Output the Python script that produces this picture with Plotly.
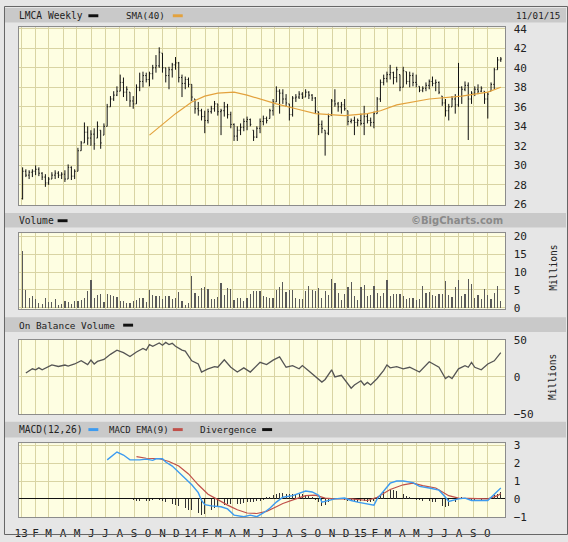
import plotly.graph_objects as go
import pandas as pd

W, H = 568, 542

# ---------------- data ----------------
first_week = "2013-01-04"
n_weeks = 148

opens = [26.6, 29.4, 29.0, 29.3, 29.4, 29.6, 29.2, 28.8, 28.2, 28.6, 29.0, 29.2, 29.0, 29.1, 28.6, 29.8, 28.9, 29.4, 31.5, 32.3,
         33.4, 32.8, 33.2, 32.8, 33.6, 33.1, 34.0, 36.0, 36.8, 37.2, 37.6, 38.5, 37.5, 37.5, 36.6, 36.3, 38.0, 38.6, 39.2, 38.8,
         39.4, 40.0, 40.2, 41.5, 40.0, 39.2, 39.8, 40.3, 40.5, 39.0, 38.4, 38.8, 38.3, 36.8, 35.8, 35.6, 35.0, 34.6, 35.5, 35.8,
         36.3, 35.5, 35.6, 36.0, 35.2, 34.2, 33.0, 33.6, 33.9, 34.5, 34.7, 33.6, 32.9, 33.8, 34.5, 34.8, 34.8, 35.6, 36.5, 37.6,
         37.4, 36.8, 36.3, 35.2, 36.9, 37.0, 37.3, 37.0, 37.5, 37.2, 36.9, 35.5, 34.2, 33.6, 33.3, 35.1, 36.6, 36.3, 36.0, 36.2,
         35.6, 34.5, 34.6, 34.4, 34.6, 34.3, 35.0, 34.6, 34.4, 35.3, 36.8, 38.5, 38.9, 39.3, 39.5, 39.0, 39.3, 38.0, 39.6, 38.6,
         39.2, 38.5, 38.1, 37.7, 37.9, 38.2, 38.6, 38.4, 38.5, 37.1, 36.4, 35.6, 36.0, 36.8, 36.2, 38.0, 37.8, 38.2, 36.8, 37.4,
         37.8, 37.6, 37.6, 36.8, 37.6, 38.3, 39.8, 40.8]
highs = [29.8, 29.6, 29.5, 29.6, 30.0, 29.8, 29.3, 29.1, 28.8, 29.3, 29.5, 29.4, 29.3, 29.5, 30.1, 29.9, 29.6, 31.8, 32.5, 34.4,
         34.0, 33.6, 33.8, 34.5, 33.6, 34.3, 36.3, 37.1, 37.6, 38.1, 39.3, 39.0, 38.1, 37.5, 37.1, 38.3, 39.5, 39.6, 39.5, 39.6,
         40.3, 41.3, 42.1, 41.5, 40.0, 40.1, 40.5, 41.1, 40.6, 39.3, 39.1, 39.0, 38.3, 36.8, 36.5, 35.8, 35.6, 35.8, 36.1, 36.6,
         36.3, 35.8, 36.5, 36.3, 35.5, 34.3, 34.0, 34.3, 34.8, 35.0, 34.8, 33.6, 34.0, 34.8, 35.1, 35.0, 35.8, 36.8, 38.1, 37.8,
         37.8, 37.3, 36.3, 37.1, 37.3, 37.6, 37.5, 37.8, 37.6, 37.3, 37.0, 35.5, 34.6, 33.6, 35.3, 36.8, 37.8, 36.5, 36.5, 36.8,
         35.6, 34.8, 35.0, 34.8, 35.3, 36.1, 35.3, 34.9, 35.5, 37.0, 38.8, 39.3, 39.6, 40.3, 39.6, 40.1, 39.3, 40.1, 39.6, 39.6,
         39.5, 39.3, 38.1, 38.1, 38.5, 38.8, 39.1, 38.8, 38.6, 37.1, 36.8, 36.3, 37.1, 37.3, 40.5, 38.1, 38.6, 38.5, 37.6, 38.1,
         38.3, 38.1, 37.6, 37.5, 38.5, 40.0, 41.1, 41.1]
lows = [26.5, 28.8, 28.6, 28.8, 29.0, 28.9, 28.5, 27.8, 28.0, 28.6, 28.6, 28.7, 28.6, 28.3, 28.6, 28.5, 28.6, 29.4, 31.5, 32.3,
        32.1, 32.0, 31.6, 32.8, 31.7, 33.1, 34.0, 36.0, 36.6, 37.1, 37.6, 37.0, 36.6, 36.0, 35.8, 36.3, 37.6, 38.0, 38.5, 38.1,
        38.8, 39.5, 40.0, 39.5, 38.5, 37.8, 39.0, 39.8, 38.5, 37.0, 37.8, 38.0, 36.6, 35.3, 35.1, 34.6, 33.3, 34.3, 35.3, 35.5,
        35.1, 33.1, 35.0, 34.8, 33.8, 32.5, 32.5, 33.1, 33.5, 33.6, 34.0, 32.5, 32.8, 33.3, 34.1, 34.3, 34.8, 35.1, 36.5, 35.3,
        36.3, 36.0, 34.6, 35.0, 36.5, 36.8, 36.8, 37.0, 36.8, 36.6, 35.3, 33.1, 33.3, 31.0, 33.1, 35.1, 36.0, 35.5, 35.3, 35.6,
        34.1, 34.3, 33.1, 34.0, 34.1, 33.1, 34.3, 34.0, 33.8, 35.3, 36.5, 38.2, 38.5, 38.8, 38.3, 38.5, 37.6, 38.0, 38.3, 38.0,
        38.1, 38.0, 37.5, 37.5, 37.6, 37.8, 38.1, 37.6, 37.3, 36.1, 35.0, 34.6, 36.0, 35.3, 36.0, 36.3, 37.6, 32.6, 36.3, 37.1,
        37.3, 37.5, 36.3, 34.8, 37.6, 37.8, 39.8, 40.6]
closes = [29.4, 29.0, 29.3, 29.4, 29.6, 29.2, 28.8, 28.2, 28.6, 29.0, 29.2, 29.0, 29.1, 28.6, 29.8, 28.9, 29.4, 31.5, 32.3, 33.4,
          32.8, 33.2, 32.2, 34.0, 32.3, 34.0, 36.0, 36.8, 37.2, 37.6, 38.5, 37.5, 37.8, 36.6, 36.3, 38.0, 38.6, 39.2, 38.8, 39.4,
          40.0, 40.2, 41.6, 40.0, 39.2, 39.8, 40.3, 40.5, 39.0, 38.4, 38.8, 38.3, 37.0, 35.8, 35.6, 35.0, 34.6, 35.5, 35.8, 36.3,
          35.5, 35.6, 36.0, 35.2, 34.2, 33.0, 33.6, 33.9, 34.5, 34.7, 34.2, 32.9, 33.8, 34.5, 34.8, 34.6, 35.6, 36.5, 37.6, 37.4,
          36.8, 36.4, 35.2, 36.9, 37.0, 37.3, 37.0, 37.5, 37.2, 36.9, 35.6, 34.2, 33.8, 33.3, 35.0, 36.6, 36.3, 36.0, 36.2, 35.8,
          34.5, 34.6, 34.4, 34.6, 34.3, 35.0, 34.6, 34.4, 35.3, 36.8, 38.5, 38.9, 39.3, 39.5, 39.0, 39.8, 38.0, 39.7, 38.6, 39.2,
          38.5, 38.3, 37.7, 37.9, 38.2, 38.6, 38.4, 38.5, 37.5, 36.4, 35.6, 36.0, 36.8, 36.2, 38.0, 37.8, 38.2, 36.8, 37.4, 37.8,
          37.6, 37.9, 36.8, 37.3, 38.3, 39.8, 40.8, 40.9]

sma_weeks = [39, 43, 47, 52, 56, 60, 65, 69, 73, 78, 84, 90, 99, 106, 110, 115, 125, 135, 143, 147]
sma_vals = [33.1, 34.2, 35.3, 36.5, 37.1, 37.4, 37.5, 37.2, 36.8, 36.3, 35.8, 35.3, 35.1, 35.3, 35.6, 36.2, 36.8, 37.1, 37.5, 38.0]

volume = [15.8, 5.1, 2.7, 3.4, 2.4, 1.3, 1.1, 2.8, 1.6, 1.6, 2.4, 0.9, 1.2, 1.8, 1.6, 1.1, 1.8, 2.0, 2.3, 2.7,
          4.8, 7.7, 2.9, 3.7, 4.0, 1.6, 4.0, 3.5, 3.2, 3.1, 1.8, 1.8, 1.5, 1.5, 2.0, 2.2, 2.8, 2.7, 1.6, 5.1,
          3.7, 3.4, 3.4, 2.4, 3.4, 3.2, 2.4, 2.8, 4.4, 2.0, 0.8, 1.3, 8.9, 4.3, 3.3, 5.5, 5.9, 5.2, 2.5, 2.5,
          3.1, 6.9, 3.7, 5.5, 5.3, 2.1, 2.7, 2.7, 1.8, 2.7, 4.0, 4.6, 4.6, 4.8, 3.3, 3.1, 2.7, 2.7, 5.0, 5.9,
          7.2, 4.5, 5.0, 4.9, 2.7, 2.5, 2.5, 4.8, 6.1, 5.0, 4.6, 5.5, 2.8, 4.8, 3.5, 8.2, 6.9, 4.3, 2.2, 4.0,
          5.7, 7.2, 3.3, 2.1, 5.7, 6.4, 3.4, 3.6, 6.1, 4.2, 3.3, 4.3, 7.9, 3.2, 4.0, 4.0, 3.8, 3.2, 2.4, 2.7,
          2.7, 2.2, 2.4, 6.1, 4.1, 4.5, 3.6, 3.3, 3.9, 4.0, 7.6, 3.6, 3.0, 5.8, 7.8, 3.2, 4.0, 8.2, 6.7, 2.7,
          3.7, 2.5, 5.3, 3.5, 2.5, 4.3, 6.2, 2.0]

obv_weeks = [1, 3, 4, 5, 6, 8, 9, 11, 13, 14, 16, 18, 20, 21, 22, 23, 25, 27, 29, 31, 33, 35, 37, 38, 39, 40, 42, 43, 44, 45,
             46, 47, 49, 50, 52, 54, 55, 57, 59, 60, 62, 64, 66, 68, 70, 73, 75, 77, 79, 81, 83, 85, 86, 88, 90, 92, 93, 95, 96,
             98, 101, 102, 104, 105, 106, 107, 109, 111, 112, 113, 115, 117, 119, 122, 125, 128, 130, 131, 132, 134, 136, 137,
             138, 139, 141, 143, 145, 147]
obv_vals = [5.2, 10.9, 9.5, 12.2, 9.5, 13.9, 16.1, 14.0, 16.0, 14.5, 17.4, 21.7, 16.5, 22.6, 17.4, 20.9, 23.5, 30.4, 36.1, 32.6,
            27.4, 33.5, 38.3, 36.1, 43.5, 41.3, 45.7, 42.6, 46.5, 43.5, 45.2, 41.3, 36.1, 34.8, 21.7, 17.4, 6.5, 10.9, 13.9, 13.0,
            23.0, 13.0, 6.5, 12.2, 6.5, 19.6, 16.5, 22.6, 27.0, 13.0, 15.2, 10.9, 15.2, 7.8, 0.0, -7.0, -3.5, 9.6, 0.0, 2.2,
            -15.2, -10.9, -5.2, -10.9, -7.4, -10.9, -2.2, 8.7, 16.1, 12.2, 13.9, 10.9, 13.0, 6.5, 20.4, 13.0, -2.2, 0.9, -2.2,
            10.9, 15.2, 13.0, 19.6, 13.0, 9.6, 17.4, 21.7, 32.6]

macd_weeks = [26, 29, 31, 33, 36, 38, 40, 41, 43, 44, 46, 48, 50, 52, 54, 55, 56, 58, 61, 63, 65, 68, 70, 72, 74, 76, 78, 80,
              83, 85, 87, 89, 91, 92, 94, 96, 99, 101, 103, 106, 108, 109, 111, 113, 115, 117, 120, 122, 125, 128, 130, 131,
              134, 136, 138, 141, 143, 145, 147]
macd_vals = [2.19, 2.63, 2.46, 2.19, 2.19, 2.23, 2.16, 2.25, 2.25, 2.07, 1.84, 1.49, 1.14, 0.79, 0.35, -0.09, -0.32, -0.39,
             -0.44, -0.56, -0.91, -1.0, -0.91, -1.0, -0.79, -0.53, -0.18, 0.09, 0.18, 0.32, 0.44, 0.39, 0.21, -0.18, -0.09,
             0.0, 0.05, -0.09, -0.18, -0.26, -0.35, 0.0, 0.44, 0.88, 1.0, 1.0, 0.91, 0.7, 0.61, 0.49, 0.09, -0.14, 0.0, 0.04,
             -0.09, -0.09, -0.09, 0.26, 0.61]

ema_weeks = [35, 38, 42, 45, 48, 51, 54, 57, 60, 63, 66, 69, 72, 75, 78, 80, 84, 87, 90, 93, 96, 101, 106, 109, 113, 117,
             120, 123, 127, 131, 134, 139, 143, 146, 147]
ema_vals = [2.37, 2.28, 2.25, 2.1, 1.84, 1.4, 0.79, 0.26, -0.04, -0.35, -0.61, -0.79, -0.82, -0.7, -0.44, -0.26, 0.0, 0.18,
            0.21, 0.04, 0.0, 0.0, -0.09, 0.09, 0.53, 0.79, 0.88, 0.74, 0.61, 0.18, 0.04, 0.0, 0.0, 0.18, 0.3]

div_first_week = 34
divergence = [-0.05, -0.1, -0.1, -0.08, -0.1, -0.1, -0.08, -0.05, -0.06, -0.12, -0.15, -0.2, -0.28, -0.33, -0.38, -0.45,
              -0.5, -0.6, -0.65, -0.72, -0.8, -0.88, -0.85, -0.7, -0.6, -0.5, -0.45, -0.4, -0.35, -0.3, -0.3, -0.28, -0.3,
              -0.3, -0.25, -0.2, -0.2, -0.15, -0.12, -0.1, -0.05, 0.1, 0.12, 0.2, 0.3, 0.35, 0.35, 0.3, 0.3, 0.3, 0.28, 0.3,
              0.25, 0.2, 0.15, 0.1, -0.05, -0.2, -0.4, -0.35, -0.2, -0.08, 0.02, 0.05, 0.04, -0.05, -0.1, -0.1, -0.12, -0.15,
              -0.12, -0.12, -0.15, -0.2, -0.1, 0.1, 0.3, 0.45, 0.5, 0.5, 0.48, 0.45, 0.4, 0.25, 0.15, 0.12, 0.1, -0.05,
              -0.08, -0.1, -0.1, -0.12, -0.15, -0.2, -0.3, -0.4, -0.45, -0.4, -0.3, -0.15, 0.05, 0.1, 0.08, -0.05, -0.06,
              -0.08, -0.05, -0.04, -0.03, 0.05, 0.1, 0.2, 0.3, 0.38]

month_labels = ["13", "F", "M", "A", "M", "J", "J", "A", "S", "O", "N", "D",
                "14", "F", "M", "A", "M", "J", "J", "A", "S", "O", "N", "D",
                "15", "F", "M", "A", "M", "J", "J", "A", "S", "O"]

price_ticks = [26, 28, 30, 32, 34, 36, 38, 40, 42, 44]
vol_ticks = [0, 5, 10, 15, 20]
obv_ticks = [-50, 0, 50]
macd_ticks = [-1, 0, 1, 2, 3]

# ---------------- derived positions ----------------
dates = pd.date_range(first_week, periods=n_weeks, freq="7D")
assert len(opens) == len(highs) == len(lows) == len(closes) == len(volume) == n_weeks
month_ticks = pd.date_range("2013-01-01", periods=len(month_labels), freq="MS")
div_dates = dates[div_first_week:div_first_week + len(divergence)]

FONT = "DejaVu Sans Mono"
GRID = "#d9d4a4"
PLOTBG = "#fefee2"
BORDER = "#8c8c8c"
PAPER = "#e6e6e6"
HEADER = "#c9c9c9"
XRANGE = ["2012-12-27", "2015-11-09"]
X0, X1 = 15, 505


def ydom(top, bottom):
    return [1 - bottom / H, 1 - top / H]


fig = go.Figure()

fig.add_trace(go.Ohlc(x=dates, open=opens, high=highs, low=lows, close=closes,
                      increasing=dict(line=dict(color="#111111", width=1)),
                      decreasing=dict(line=dict(color="#111111", width=1)),
                      tickwidth=0.3, xaxis="x", yaxis="y", showlegend=False, hoverinfo="skip"))
fig.add_trace(go.Scatter(x=[dates[i] for i in sma_weeks], y=sma_vals, mode="lines",
                         line=dict(color="#e3a23e", width=1.2), xaxis="x", yaxis="y", showlegend=False))

fig.add_trace(go.Bar(x=dates, y=volume, marker=dict(color="#5a5a5a", line=dict(width=0)),
                     width=2.6 * 86400000, xaxis="x2", yaxis="y2", showlegend=False))

fig.add_trace(go.Scatter(x=[dates[i] for i in obv_weeks], y=obv_vals, mode="lines",
                         line=dict(color="#555555", width=1.3), xaxis="x3", yaxis="y3", showlegend=False))

fig.add_trace(go.Bar(x=div_dates, y=divergence, marker=dict(color="#333333", line=dict(width=0)),
                     width=1.9 * 86400000, xaxis="x4", yaxis="y4", showlegend=False))
fig.add_trace(go.Scatter(x=[dates[i] for i in ema_weeks], y=ema_vals, mode="lines",
                         line=dict(color="#c0504a", width=1.2), xaxis="x4", yaxis="y4", showlegend=False))
fig.add_trace(go.Scatter(x=[dates[i] for i in macd_weeks], y=macd_vals, mode="lines",
                         line=dict(color="#3d9bf0", width=1.4), xaxis="x4", yaxis="y4", showlegend=False))


def xaxis(anchor, labels):
    return dict(domain=[X0 / W, X1 / W], range=XRANGE, type="date", anchor=anchor,
                tickvals=list(month_ticks), ticktext=month_labels, showticklabels=labels,
                ticks="outside" if labels else "", ticklen=5, tickcolor="rgba(0,0,0,0)",
                showgrid=True, gridcolor=GRID, gridwidth=1, zeroline=False,
                showline=True, linecolor=BORDER, linewidth=1, mirror=True, fixedrange=True,
                rangeslider=dict(visible=False),
                tickfont=dict(family=FONT, size=11, color="#222222"))


def yaxis(anchor, dom, rng, ticks, zl=False):
    return dict(domain=dom, range=rng, anchor=anchor, side="right", tickvals=ticks,
                ticks="outside", ticklen=5, tickcolor="rgba(0,0,0,0)",
                showgrid=True, gridcolor=GRID, gridwidth=1,
                zeroline=zl, zerolinecolor="#111111", zerolinewidth=1,
                showline=True, linecolor=BORDER, linewidth=1, mirror=True, fixedrange=True,
                tickfont=dict(family=FONT, size=11, color="#222222"))


fig.update_layout(
    width=W, height=H, margin=dict(l=0, r=0, t=0, b=0),
    paper_bgcolor=PAPER, plot_bgcolor=PLOTBG, bargap=0,
    xaxis=xaxis("y", False), xaxis2=xaxis("y2", False), xaxis3=xaxis("y3", False), xaxis4=xaxis("y4", True),
    yaxis=yaxis("x", ydom(22, 204), [25.93, 44.13], price_ticks),
    yaxis2=yaxis("x2", ydom(232.7, 310.7), [-0.38, 20.9], vol_ticks),
    yaxis3=yaxis("x3", ydom(342, 418), [-50, 50], obv_ticks),
    yaxis4=yaxis("x4", ydom(448, 524), [-1.04, 3.12], macd_ticks, zl=True),
)

shapes = []
annotations = []


def px_rect(x0, y0, x1, y1, fill, line=None, layer="below"):
    shapes.append(dict(type="rect", xref="paper", yref="paper", x0=x0 / W, x1=x1 / W, y0=1 - y1 / H, y1=1 - y0 / H,
                       fillcolor=fill, line=dict(width=1 if line else 0, color=line or fill), layer=layer))


def text(x, y, s, anchor="left", size=9.6, color="#222222", bold=False, family=FONT, angle=0):
    annotations.append(dict(xref="paper", yref="paper", x=x / W, y=1 - y / H, text=("<b>%s</b>" % s) if bold else s,
                            showarrow=False, xanchor=anchor, yanchor="middle", textangle=angle,
                            font=dict(family=family, size=size, color=color)))


# header bands
for (t, b) in [(2, 17), (212, 227), (319, 334), (426, 442)]:
    px_rect(1, t, W - 2, b, HEADER)

# headers
text(13, 10, "LMCA Weekly")
px_rect(85, 8.5, 95, 11.5, "#111111", layer="above")
text(121, 10, "SMA(40)", size=9.2)
px_rect(170, 8.5, 180, 11.5, "#e3a23e", layer="above")
text(562, 10, "11/01/15", anchor="right", size=9.2)

text(13, 220, "Volume")
px_rect(54, 218.5, 64, 221.5, "#111111", layer="above")
text(505, 220, "©BigCharts.com", anchor="right", bold=True, color="#8a8a8a", family="DejaVu Sans", size=10)

text(13, 327, "On Balance Volume", size=9.4)
px_rect(120, 325.5, 130, 328.5, "#111111", layer="above")

text(13, 434, "MACD(12,26)")
px_rect(85, 432.5, 95, 435.5, "#3d9bf0", layer="above")
text(104, 434, "MACD EMA(9)", size=9)
px_rect(170, 432.5, 180, 435.5, "#c0504a", layer="above")
text(195, 434, "Divergence", size=9.4)
px_rect(260, 432.5, 270, 435.5, "#111111", layer="above")

text(553, 268, "Millions", anchor="center", angle=-90)
text(553, 380, "Millions", anchor="center", angle=-90)

# outer frame
shapes.append(dict(type="rect", xref="paper", yref="paper", x0=0.5 / W, x1=1 - 0.5 / W, y0=0.5 / H, y1=1 - 0.5 / H,
                   line=dict(color="#666666", width=1), fillcolor="rgba(0,0,0,0)", layer="above"))

fig.update_layout(shapes=shapes, annotations=annotations)

fig.write_html("out.html", config={"displayModeBar": False, "staticPlot": True})

# remove the browser's default page margin so the figure sits at (0, 0)
with open("out.html", encoding="utf-8") as f:
    page = f.read()
page = page.replace("<head>", "<head><style>html,body{margin:0;padding:0;overflow:hidden;}</style>", 1)
with open("out.html", "w", encoding="utf-8") as f:
    f.write(page)
